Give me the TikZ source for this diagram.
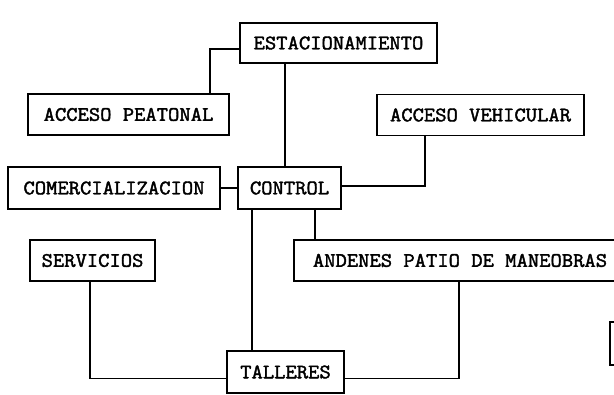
\documentclass[tikz,border=0pt]{standalone}
\usepackage{fontspec}
\newfontfamily\areafont{Latin Modern Mono}[FakeBold=2, FakeStretch=1.07]
\usetikzlibrary{positioning}
\tikzset{
  area/.style={draw, line width=1.2pt, inner sep=0pt, font=\areafont\fontsize{15.4}{17}\selectfont},
  link/.style={line width=1.2pt}
}

\begin{document}
\begin{tikzpicture}[x=0.75pt, y=-0.75pt]
    \useasboundingbox (0,0) rectangle (614,395);
    % areas
    \node[area, minimum width=197*0.75pt, minimum height=40*0.75pt] (est) at (338.5,43) {ESTACIONAMIENTO};
    \node[area, minimum width=201*0.75pt, minimum height=41*0.75pt] (peat) at (128.5,114.5) {ACCESO PEATONAL};
    \node[area, minimum width=207*0.75pt, minimum height=41*0.75pt] (veh) at (480.5,115) {ACCESO VEHICULAR};
    \node[area, minimum width=212*0.75pt, minimum height=42*0.75pt] (com) at (114,188) {COMERCIALIZACION};
    \node[area, minimum width=103*0.75pt, minimum height=42*0.75pt] (ctrl) at (289.5,188) {CONTROL};
    \node[area, minimum width=125*0.75pt, minimum height=41*0.75pt] (serv) at (92.5,260.5) {SERVICIOS};
    \node[area, minimum width=332*0.75pt, minimum height=41*0.75pt] (and) at (460,260.5) {ANDENES PATIO DE MANEOBRAS};
    \node[area, minimum width=117*0.75pt, minimum height=42*0.75pt] (tal) at (285.5,372) {TALLERES};
    \node[area, minimum width=40*0.75pt, minimum height=43*0.75pt] (frag) at (630,343.5) {};
    % links
    \draw[link] (peat.north -| 210,0) |- ([yshift=-4.5pt]est.west);
    \draw[link] (est.south -| 285,0) -- (ctrl.north -| 285,0);
    \draw[link] (com.east) -- (ctrl.west);
    \draw[link] (veh.south -| 425,0) |- ([yshift=1.5pt]ctrl.east);
    \draw[link] (ctrl.south -| 315,0) -- (and.north -| 315,0);
    \draw[link] (ctrl.south -| 252,0) -- (tal.north -| 252,0);
    \draw[link] (serv.south -| 90,0) |- ([yshift=-5pt]tal.west);
    \draw[link] (and.south -| 459,0) |- ([yshift=-5pt]tal.east);
  \end{tikzpicture}
\end{document}
